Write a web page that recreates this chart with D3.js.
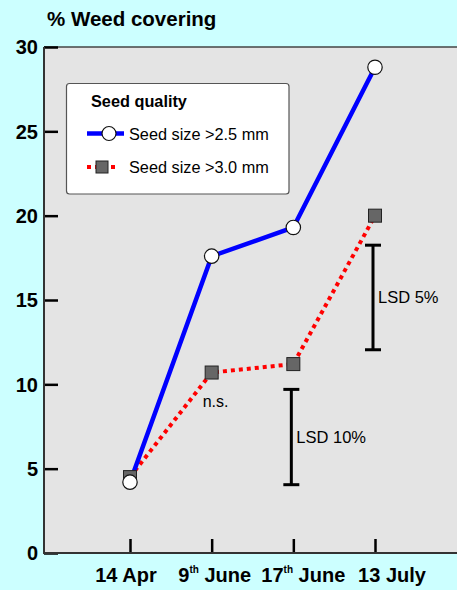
<!DOCTYPE html>
<html>
<head>
<meta charset="utf-8">
<script src="https://cdn.jsdelivr.net/npm/d3@7"></script>
<style>
    html, body { margin: 0; padding: 0; background: #ccffff; }
    svg { display: block; font-family: Arial, "Liberation Sans", sans-serif; }
</style>
</head>
<body>
<script>
// dates on the x axis
var dates = ["14 Apr", "9th June", "17th June", "13 July"];
var dateParts = [["14 Apr", ""], ["9", "th", " June"], ["17", "th", " June"], ["13 July", ""]];

// % weed covering per seed size
var seed25 = [4.2, 17.6, 19.3, 28.8];
var seed30 = [4.5, 10.7, 11.2, 20.0];

// LSD bars: [date index, low, high, label]
var lsdBars = [
    [3, 12.05, 18.25, "LSD 5%"],
    [2, 4.05, 9.7, "LSD 10%"]
];

var yTicks = [0, 5, 10, 15, 20, 25, 30];

(function () {
    var W = 457, H = 590;
    var left = 44, top = 47, bottom = 553;

    var svg = d3.select("body").append("svg")
        .attr("width", W)
        .attr("height", H);

    svg.append("rect")
        .attr("width", W).attr("height", H)
        .attr("fill", "#ccffff");

    var x = d3.scalePoint()
        .domain(dates)
        .range([130, 375]);

    // the date labels sit a bit wider apart than the ticks
    var xLabel = d3.scalePoint()
        .domain(dates)
        .range([126, 392]);

    var y = d3.scaleLinear()
        .domain([0, 30])
        .range([bottom, top]);

    // plot background
    svg.append("rect")
        .attr("x", left).attr("y", top)
        .attr("width", W - left + 2).attr("height", bottom - top)
        .attr("fill", "#e4e4e4");

    svg.append("line")
        .attr("x1", left).attr("x2", W)
        .attr("y1", top).attr("y2", top)
        .attr("stroke", "#444").attr("stroke-width", 1.5);

    // y axis
    var yAxis = d3.axisRight(y)
        .tickValues(yTicks)
        .tickSize(14)
        .tickFormat("");
    var gy = svg.append("g")
        .attr("transform", "translate(" + left + ",0)")
        .call(yAxis);
    gy.select(".domain").remove();
    gy.selectAll(".tick line").attr("stroke", "#000").attr("stroke-width", 2.5);

    svg.selectAll(".ylab")
        .data(yTicks)
        .enter().append("text")
        .attr("class", "ylab")
        .attr("x", 38)
        .attr("y", function (d) { return y(d); })
        .attr("dy", "0.36em")
        .attr("text-anchor", "end")
        .attr("font-size", 20)
        .attr("font-weight", "bold")
        .text(function (d) { return d; });

    // x axis
    var xAxis = d3.axisTop(x)
        .tickSize(14)
        .tickFormat("");
    var gx = svg.append("g")
        .attr("transform", "translate(0," + bottom + ")")
        .call(xAxis);
    gx.select(".domain").remove();
    gx.selectAll(".tick line").attr("stroke", "#000").attr("stroke-width", 2.5);

    svg.append("line")
        .attr("x1", left).attr("x2", left)
        .attr("y1", top).attr("y2", bottom + 1)
        .attr("stroke", "#333").attr("stroke-width", 2);
    svg.append("line")
        .attr("x1", left - 1).attr("x2", W)
        .attr("y1", bottom).attr("y2", bottom)
        .attr("stroke", "#333").attr("stroke-width", 2);

    var xl = svg.selectAll(".xlab")
        .data(dates)
        .enter().append("text")
        .attr("class", "xlab")
        .attr("x", function (d) { return xLabel(d); })
        .attr("y", 582)
        .attr("text-anchor", "middle")
        .attr("font-size", 20)
        .attr("font-weight", "bold");
    xl.each(function (d, i) {
        var t = d3.select(this), p = dateParts[i];
        if (p.length === 3) {
            t.append("tspan").text(p[0]);
            t.append("tspan").attr("font-size", 10).attr("dy", -9).text(p[1]);
            t.append("tspan").attr("dy", 9).text(p[2]);
        } else {
            t.text(p[0]);
        }
    });

    // title
    svg.append("text")
        .attr("x", 47).attr("y", 26)
        .attr("font-size", 20.5)
        .attr("font-weight", "bold")
        .text("% Weed covering");

    // LSD bars
    lsdBars.forEach(function (b) {
        var cx = x(dates[b[0]]) - 2;
        var g = svg.append("g").attr("stroke", "#000").attr("stroke-width", 3);
        g.append("line").attr("x1", cx).attr("x2", cx).attr("y1", y(b[1])).attr("y2", y(b[2]));
        g.append("line").attr("x1", cx - 8).attr("x2", cx + 8).attr("y1", y(b[1])).attr("y2", y(b[1]));
        g.append("line").attr("x1", cx - 8).attr("x2", cx + 8).attr("y1", y(b[2])).attr("y2", y(b[2]));
        svg.append("text")
            .attr("x", cx + 5)
            .attr("y", y((b[1] + b[2]) / 2))
            .attr("dy", "0.35em")
            .attr("font-size", 16.5)
            .text(b[3]);
    });

    svg.append("text")
        .attr("x", x(dates[1]) - 9)
        .attr("y", y(seed30[1]) + 34)
        .attr("font-size", 16)
        .text("n.s.");

    // lines
    var line = d3.line()
        .x(function (d, i) { return x(dates[i]); })
        .y(function (d) { return y(d); });

    svg.append("path")
        .datum(seed30)
        .attr("d", line)
        .attr("fill", "none")
        .attr("stroke", "#ff0000")
        .attr("stroke-width", 4)
        .attr("stroke-dasharray", "4,4");

    svg.append("path")
        .datum(seed25)
        .attr("d", line)
        .attr("fill", "none")
        .attr("stroke", "#0000ff")
        .attr("stroke-width", 4.5);

    svg.selectAll(".sq")
        .data(seed30)
        .enter().append("rect")
        .attr("class", "sq")
        .attr("x", function (d, i) { return x(dates[i]) - 6.5; })
        .attr("y", function (d) { return y(d) - 6.5; })
        .attr("width", 13).attr("height", 13)
        .attr("fill", "#666")
        .attr("stroke", "#222")
        .attr("stroke-width", 1);

    svg.selectAll(".dot")
        .data(seed25)
        .enter().append("circle")
        .attr("class", "dot")
        .attr("cx", function (d, i) { return x(dates[i]); })
        .attr("cy", function (d) { return y(d); })
        .attr("r", 7.2)
        .attr("fill", "#fff")
        .attr("stroke", "#111")
        .attr("stroke-width", 1.2);

    // legend
    var lg = svg.append("g");
    lg.append("rect")
        .attr("x", 66.5).attr("y", 83.5)
        .attr("width", 222.5).attr("height", 110.5)
        .attr("rx", 3)
        .attr("fill", "#fff")
        .attr("stroke", "#555")
        .attr("stroke-width", 1.2);
    lg.append("text")
        .attr("x", 91).attr("y", 107)
        .attr("font-size", 16.3)
        .attr("font-weight", "bold")
        .text("Seed quality");

    lg.append("line")
        .attr("x1", 87).attr("x2", 124)
        .attr("y1", 133.5).attr("y2", 133.5)
        .attr("stroke", "#0000ff").attr("stroke-width", 4.5);
    lg.append("circle")
        .attr("cx", 109).attr("cy", 133.5).attr("r", 7)
        .attr("fill", "#fff").attr("stroke", "#111").attr("stroke-width", 1.2);
    lg.append("text")
        .attr("x", 129).attr("y", 139.5)
        .attr("font-size", 16.3)
        .text("Seed size >2.5 mm");

    lg.append("line")
        .attr("x1", 87).attr("x2", 115)
        .attr("y1", 167).attr("y2", 167)
        .attr("stroke", "#ff0000").attr("stroke-width", 4)
        .attr("stroke-dasharray", "4,4");
    lg.append("rect")
        .attr("x", 96).attr("y", 161).attr("width", 12).attr("height", 12)
        .attr("fill", "#666").attr("stroke", "#222").attr("stroke-width", 1);
    lg.append("text")
        .attr("x", 129).attr("y", 172.5)
        .attr("font-size", 16.3)
        .text("Seed size >3.0 mm");
}());
</script>
</body>
</html>
